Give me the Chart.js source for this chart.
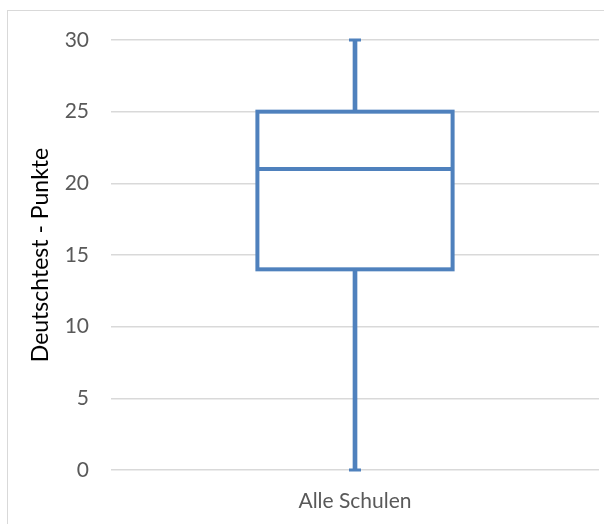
<!DOCTYPE html>
<html>
<head>
<meta charset="utf-8">
<script src="https://cdn.jsdelivr.net/npm/chart.js@4.4.1/dist/chart.umd.min.js"></script>
<style>
  html, body { margin: 0; padding: 0; background: #ffffff; }
  #wrap { position: relative; width: 604px; height: 524px; overflow: hidden; }
  #frame { position: absolute; left: 7px; top: 10px; width: 620px; height: 540px; border: 1.5px solid #d9d9d9; box-sizing: border-box; }
  #plot { position: absolute; left: 0; top: 0; }
</style>
</head>
<body>
<div id="wrap">
  <div id="frame"></div>
  <canvas id="plot" width="604" height="524"></canvas>
</div>
<script>
// data
let categories = ["Alle Schulen"];
let minValues = [0];
let q1Values = [14];
let medianValues = [21];
let q3Values = [25];
let maxValues = [30];
let yTicks = [0, 5, 10, 15, 20, 25, 30];

let boxColor = "#4F81BD";

// box outline, median line and whisker caps, placed through the chart scales
const boxExtras = {
    id: 'boxExtras',
    afterDatasetsDraw: (chart)=>{
        const {ctx} = chart;
        const y = chart.scales.y;
        const meta = chart.getDatasetMeta(0);
        ctx.save();
        ctx.strokeStyle = boxColor;
        ctx.lineCap = 'butt';
        ctx.lineJoin = 'miter';
        meta.data.forEach((bar, i)=>{
            let half = bar.width / 2;
            let yTop = y.getPixelForValue(q3Values[i]);
            let yBot = y.getPixelForValue(q1Values[i]);
            let ym = y.getPixelForValue(medianValues[i]);

            ctx.lineWidth = 4;
            ctx.strokeRect(bar.x - half, yTop, bar.width, yBot - yTop);

            ctx.beginPath();
            ctx.moveTo(bar.x - half, ym);
            ctx.lineTo(bar.x + half, ym);
            ctx.stroke();

            // caps
            ctx.lineWidth = 3;
            [minValues[i], maxValues[i]].forEach(v=>{
                let yp = y.getPixelForValue(v);
                ctx.beginPath();
                ctx.moveTo(bar.x - 6, yp);
                ctx.lineTo(bar.x + 6, yp);
                ctx.stroke();
            });
        });
        ctx.restore();
    }
};

let config = {
    type: 'bar',
    data: {
        labels: categories,
        datasets: [
            {
                label: 'box',
                data: categories.map((c, i)=>[q1Values[i], q3Values[i]]),
                backgroundColor: '#ffffff',
                borderWidth: 0,
                barPercentage: 0.4,
                categoryPercentage: 1.0,
                grouped: false,
                order: 1
            },
            {
                label: 'whisker low',
                data: categories.map((c, i)=>[minValues[i], q1Values[i]]),
                backgroundColor: boxColor,
                borderWidth: 0,
                barThickness: 4,
                grouped: false,
                order: 2
            },
            {
                label: 'whisker high',
                data: categories.map((c, i)=>[q3Values[i], maxValues[i]]),
                backgroundColor: boxColor,
                borderWidth: 0,
                barThickness: 4,
                grouped: false,
                order: 2
            }
        ]
    },
    options: {
        responsive: false,
        animation: false,
        layout: { padding: { top: 40, right: 5, bottom: 0, left: 0 } },
        scales: {
            x: {
                grid: { display: false, drawTicks: false },
                border: { display: false },
                ticks: {
                    color: '#595959',
                    font: { family: 'Lato', size: 21 },
                    padding: 19
                },
                afterFit: (s)=>{ s.height = 54; }
            },
            y: {
                min: 0,
                max: 30,
                afterBuildTicks: (s)=>{ s.ticks = yTicks.map(v=>({value: v})); },
                grid: { color: '#d9d9d9', lineWidth: 1.5, drawTicks: false },
                border: { display: false },
                ticks: {
                    color: '#595959',
                    font: { family: 'Lato', size: 21 },
                    padding: 22
                },
                title: {
                    display: true,
                    text: 'Deutschtest - Punkte',
                    color: '#000000',
                    font: { family: 'Lato', size: 23 },
                    padding: { top: 27, bottom: 0 }
                },
                afterFit: (s)=>{ s.width = 111; }
            }
        },
        plugins: {
            legend: { display: false },
            tooltip: { enabled: false }
        }
    },
    plugins: [boxExtras]
};

new Chart(document.getElementById('plot'), config);
</script>
</body>
</html>
